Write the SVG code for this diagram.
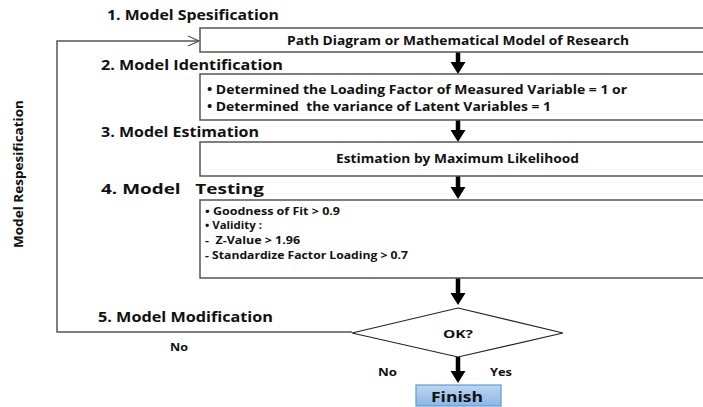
<svg xmlns="http://www.w3.org/2000/svg" width="703" height="407" viewBox="0 0 703 407">
<style>
text{font-family:"Open Sans","Noto Sans","Liberation Sans",sans-serif;font-weight:700;fill:#111}
.h{font-size:15px}
.b{font-size:12px}
.s{font-size:10px}
.box{fill:#fff;stroke:#555;stroke-width:1.5}
.fb{fill:none;stroke:#555;stroke-width:1.5}
.arr{stroke:#000;stroke-width:4.5}
</style>
<defs>
<linearGradient id="gf" x1="0" y1="0" x2="0" y2="1">
<stop offset="0" stop-color="#bcd6f2"/><stop offset="1" stop-color="#8db6e4"/>
</linearGradient>
<marker id="ah" markerWidth="14" markerHeight="14" refX="12" refY="6" orient="auto" markerUnits="userSpaceOnUse">
<path d="M1,1 L12,6 L1,11" fill="none" stroke="#555" stroke-width="1.3"/>
</marker>
<polygon id="head" points="-7.5,0 7.5,0 0,12" fill="#000"/>
</defs>
<rect width="703" height="407" fill="#fff"/>

<g id="labels">
<text class="h" x="107" y="20" textLength="172" lengthAdjust="spacingAndGlyphs">1. Model Spesification</text>
<text class="h" x="101" y="70" textLength="182" lengthAdjust="spacingAndGlyphs">2. Model Identification</text>
<text class="h" x="101" y="137" textLength="158" lengthAdjust="spacingAndGlyphs">3. Model Estimation</text>
<text class="h" x="101" y="194" textLength="163" lengthAdjust="spacingAndGlyphs" xml:space="preserve">4. Model   Testing</text>
<text class="h" x="98" y="322" textLength="175" lengthAdjust="spacingAndGlyphs">5. Model Modification</text>
<text class="b" transform="translate(23,248) rotate(-90)" x="0" y="0" textLength="148" lengthAdjust="spacingAndGlyphs">Model Respesification</text>
</g>

<g id="connectors">
<polyline class="fb" points="352,332 57,332 57,41 199,41" marker-end="url(#ah)"/>
<line class="arr" x1="458" y1="52" x2="458" y2="63"/><use href="#head" x="458" y="62"/>
<line class="arr" x1="458" y1="120" x2="458" y2="131"/><use href="#head" x="458" y="130"/>
<line class="arr" x1="458" y1="176" x2="458" y2="188"/><use href="#head" x="458" y="187"/>
<line class="arr" x1="458" y1="278" x2="458" y2="294"/><use href="#head" x="458" y="293"/>
<line class="arr" x1="458" y1="357" x2="458" y2="372"/><use href="#head" x="458" y="371"/>
<text class="s" x="170" y="351" textLength="18" lengthAdjust="spacingAndGlyphs">No</text>
<text class="s" x="378" y="376" textLength="19" lengthAdjust="spacingAndGlyphs">No</text>
<text class="s" x="490" y="376" textLength="22" lengthAdjust="spacingAndGlyphs">Yes</text>
</g>

<g id="node1">
<rect class="box" x="200" y="28" width="510" height="24"/>
<text class="b" x="287" y="45" textLength="342" lengthAdjust="spacingAndGlyphs">Path Diagram or Mathematical Model of Research</text>
</g>
<g id="node2">
<rect class="box" x="200" y="74" width="510" height="46"/>
<text class="b" x="207" y="94" textLength="420" lengthAdjust="spacingAndGlyphs">• Determined the Loading Factor of Measured Variable = 1 or</text>
<text class="b" x="207" y="111" textLength="344" lengthAdjust="spacingAndGlyphs" xml:space="preserve">• Determined  the variance of Latent Variables = 1</text>
</g>
<g id="node3">
<rect class="box" x="200" y="142" width="510" height="34"/>
<text class="b" x="336" y="163" textLength="243" lengthAdjust="spacingAndGlyphs">Estimation by Maximum Likelihood</text>
</g>
<g id="node4">
<rect class="box" x="200" y="200" width="510" height="78"/>
<text class="s" x="205" y="215" textLength="135" lengthAdjust="spacingAndGlyphs">• Goodness of Fit &gt; 0.9</text>
<text class="s" x="205" y="229" textLength="57" lengthAdjust="spacingAndGlyphs">• Validity :</text>
<text class="s" x="205" y="244" textLength="95" lengthAdjust="spacingAndGlyphs" xml:space="preserve">-  Z-Value &gt; 1.96</text>
<text class="s" x="205" y="259" textLength="203" lengthAdjust="spacingAndGlyphs">- Standardize Factor Loading &gt; 0.7</text>
</g>
<g id="node5">
<polygon points="458,308 563,333 458,357 352,333" fill="#fff" stroke="#222" stroke-width="1.2"/>
<text class="s" x="443" y="338" textLength="30" lengthAdjust="spacingAndGlyphs">OK?</text>
</g>
<g id="node6">
<rect x="416" y="385" width="85" height="21" fill="url(#gf)" stroke="#5b9bd5" stroke-width="1.2"/>
<text x="431" y="402" style="font-size:15px" textLength="52" lengthAdjust="spacingAndGlyphs">Finish</text>
</g>
</svg>
